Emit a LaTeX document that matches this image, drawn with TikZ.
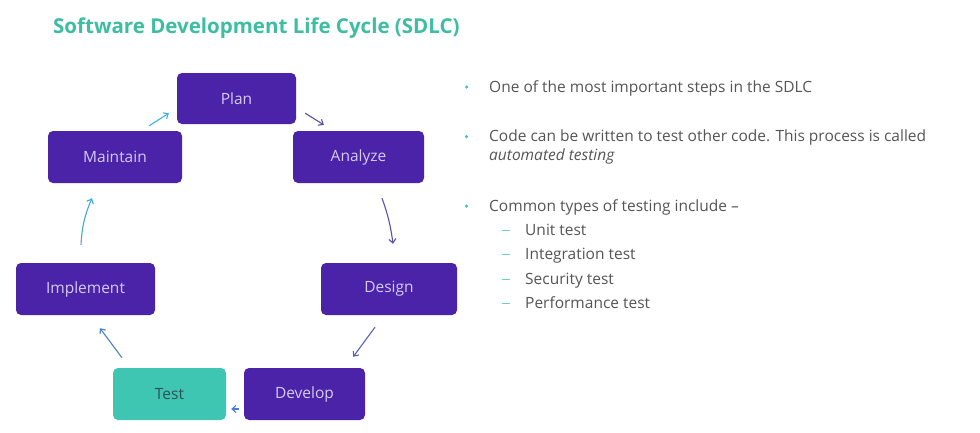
\documentclass[tikz,border=0pt]{standalone}
\usepackage{fontspec}
\setmainfont{Open Sans}
\usetikzlibrary{arrows.meta}
\definecolor{boxpurple}{HTML}{4A23A8}
\definecolor{boxteal}{HTML}{3EC6B2}
\definecolor{titleteal}{HTML}{3DBDA2}
\definecolor{boxtext}{HTML}{D6CBF2}
\definecolor{testtext}{HTML}{2E5058}
\definecolor{bodygray}{HTML}{555555}
\definecolor{dotteal}{HTML}{4CC3AC}
\definecolor{cA}{HTML}{3AB4E2}
\definecolor{cB}{HTML}{5A4CA6}
\definecolor{cC}{HTML}{5B50AC}
\definecolor{cD}{HTML}{5A60C2}
\definecolor{cE}{HTML}{4D7ED2}
\definecolor{cF}{HTML}{4C82C6}
\definecolor{cG}{HTML}{3FA8DC}
\tikzset{
  phase/.style={draw=none, fill=boxpurple, rounded corners=5pt, inner sep=0pt,
    text=boxtext, font=\fontsize{15.5}{18}\selectfont},
  flow/.style={line width=1.1pt, -{Straight Barb[length=4pt,width=7pt]}},
  body/.style={anchor=base west, inner sep=0pt, text=bodygray,
    font=\fontsize{15.5}{19}\selectfont},
  dot/.style={circle, fill=dotteal, inner sep=0pt, minimum size=3.5pt},
}
\begin{document}
\begin{tikzpicture}[x=1pt, y=-1pt]
\useasboundingbox (0,0) rectangle (980,432);
\fill[white] (0,0) rectangle (980,432);

% heading
\node[anchor=base west, inner sep=0pt, text=titleteal,
  font=\fontsize{20.5}{24}\selectfont\bfseries] (title) at (53,33)
  {Software Development Life Cycle (SDLC)};

% the seven phases
\node[phase, minimum width=119pt, minimum height=51pt] (plan) at (236.5,98.5) {Plan};
\node[phase, minimum width=134pt, minimum height=52pt] (maintain) at (115,157) {Maintain};
\node[phase, minimum width=131pt, minimum height=52pt] (analyze) at (358.5,157) {Analyze};
\node[phase, minimum width=139pt, minimum height=52pt] (implement) at (85.5,289) {Implement};
\node[phase, minimum width=136pt, minimum height=52pt] (design) at (389,289) {Design};
\node[phase, fill=boxteal, text=testtext, minimum width=113pt, minimum height=52pt] (test) at (169.5,394) {Test};
\node[phase, minimum width=121pt, minimum height=52pt] (develop) at (304.5,394) {Develop};

% cycle arrows
\draw[flow, cA] ([shift={(-33,-5)}]maintain.north east) -- ([shift={(-8,-11)}]plan.south west);
\draw[flow, cB] ([shift={(9,-11)}]plan.south east) -- ([shift={(31,-6)}]analyze.north west);
\draw[flow, cC] ([shift={(23.5,15)}]analyze.south) to[bend left=6] ([shift={(4,-19)}]design.north);
\draw[flow, cD] ([shift={(-14,12)}]design.south) -- ([shift={(-12,-11)}]develop.north east);
\draw[flow, cE] ([shift={(-5,15)}]develop.west) -- ([shift={(5,15)}]test.east);
\draw[flow, cF] ([shift={(-47.5,-10)}]test.north) -- ([shift={(14.5,13)}]implement.south);
\draw[flow, cG] ([shift={(-4.5,-18)}]implement.north) to[bend left=10] ([shift={(-23,15)}]maintain.south);

% notes on testing
\node[dot] (d1) at (466.5,87) {};
\node[body] (t1) at (489,92.3) {One of the most important steps in the SDLC};
\node[dot] (d2) at (466.5,136.5) {};
\node[body] (t2) at (489,141.5) {Code can be written to test other code. This process is called};
\node[body] (t3) at (489,160.5) {\itshape automated testing};
\node[dot] (d3) at (466.5,206) {};
\node[body] (t4) at (489,211.5) {Common types of testing include --};
\foreach \y/\txt [count=\i] in {235/Unit test, 259.5/Integration test, 284/Security test, 308/Performance test}{
  \draw[dotteal!80, line width=1pt] (501.5,\y-4.8) -- (510,\y-4.8);
  \node[body] (s\i) at (525,\y) {\txt};
}
\end{tikzpicture}
\end{document}
